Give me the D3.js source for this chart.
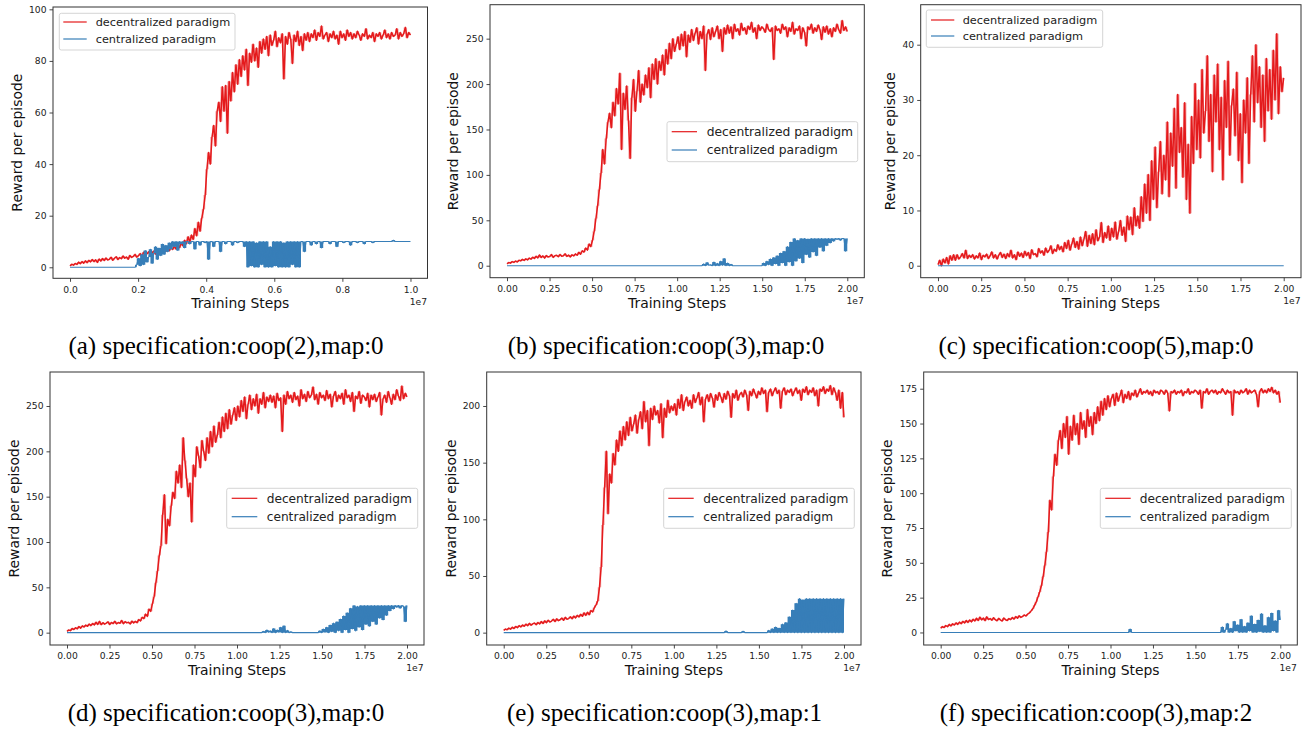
<!DOCTYPE html>
<html>
<head>
<meta charset="utf-8">
<script src="https://cdn.jsdelivr.net/npm/d3@7"></script>
<style>
  html, body { margin: 0; padding: 0; background: #fff; }
  svg { display: block; }
</style>
</head>
<body>
<script>
// ---------------- DATA ----------------
const seriesNames = ["decentralized paradigm", "centralized paradigm"];
const captions = [
  "(a) specification:coop(2),map:0",
  "(b) specification:coop(3),map:0",
  "(c) specification:coop(5),map:0",
  "(d) specification:coop(3),map:0",
  "(e) specification:coop(3),map:1",
  "(f) specification:coop(3),map:2"
];
const xMaxSteps = [1e7, 2e7, 2e7, 2e7, 2e7, 2e7];

const xTicksShort = [0, 0.2, 0.4, 0.6, 0.8, 1.0];
const xTickLabelsShort = ["0.0", "0.2", "0.4", "0.6", "0.8", "1.0"];
const xTicksLong = [0, 0.25, 0.5, 0.75, 1.0, 1.25, 1.5, 1.75, 2.0];
const xTickLabelsLong = ["0.00", "0.25", "0.50", "0.75", "1.00", "1.25", "1.50", "1.75", "2.00"];
const xOffsetLabel = "1e7";

const yTicksA = [0, 20, 40, 60, 80, 100];
const yTicksB = [0, 50, 100, 150, 200, 250];
const yTicksC = [0, 10, 20, 30, 40];
const yTicksD = [0, 50, 100, 150, 200, 250];
const yTicksE = [0, 50, 100, 150, 200];
const yTicksF = [0, 25, 50, 75, 100, 125, 150, 175];

// (a) coop(2), map 0
const redA = [
  0.5,1.2,0.8,1.5,1.1,2.0,1.4,2.2,1.6,2.5,
  1.8,2.7,2.1,3.0,2.2,2.9,1.9,3.2,2.4,3.4,
  2.6,3.6,2.8,3.1,3.9,2.7,3.5,4.1,3.0,3.8,
  3.3,4.4,3.5,4.0,3.1,4.6,3.8,4.2,5.0,3.9,
  4.5,5.3,4.1,5.8,4.8,5.2,6.0,4.7,5.6,6.3,
  5.1,6.5,5.7,7.2,5.9,6.8,6.1,7.5,6.4,7.8,
  6.9,8.2,7.0,8.9,7.6,9.4,8.3,10.5,9.1,11.8,
  9.8,12.5,10.8,15.0,12.2,17.5,14.0,19.0,22.5,28.0,
  38.0,44.5,40.0,50.5,55.0,47.0,60.5,64.0,56.5,70.0,
  60.5,70.5,52.0,72.0,64.5,75.5,68.0,78.5,71.0,80.5,
  74.0,82.0,76.5,84.5,70.5,83.0,79.5,86.5,80.0,85.0,
  77.5,87.5,83.0,88.5,84.5,89.5,82.0,90.0,86.0,88.0,
  91.5,85.5,89.0,87.0,90.5,73.0,89.5,86.5,91.0,88.5,
  79.0,90.0,87.5,91.5,86.0,89.5,84.0,90.5,88.0,91.0,
  87.5,90.5,89.0,92.0,88.0,91.0,89.5,93.5,88.5,90.0,
  91.0,87.5,90.5,89.0,91.5,88.5,90.0,86.5,91.5,89.0,
  90.5,88.0,92.0,89.5,91.0,88.5,90.5,89.0,91.5,90.0,
  88.0,90.5,89.5,92.5,88.5,90.0,89.0,91.0,87.5,90.5,
  89.5,91.0,88.5,90.0,92.0,89.0,90.5,88.5,91.0,89.5,
  90.0,92.5,88.5,91.0,89.5,90.5,93.0,89.0,91.0,90.0
];
const blueA = [
  0,0,0,0,0,0,0,0,0,0,
  0,0,0,0,0,0,0,0,0,0,
  0,0,0,0,0,0,0,0,0,0,
  0,0,0,0,0,0,0,0,0,1.0,
  3.5,0.5,5.0,1.0,6.5,2.0,4.0,7.0,1.5,5.5,
  8.0,3.0,7.5,4.5,9.0,5.0,8.5,6.0,9.5,7.0,
  10,8.0,10,6.5,10,9.0,10,7.5,10,10,
  9.0,10,10,7.0,10,10,8.5,10,10,9.5,
  10,3.0,10,10,8.0,10,10,10,6.0,10,
  10,9.0,10,10,10,8.5,10,10,9.5,10,
  10,10,8.0,10,
  0,10,0.5,10,0,9.5,0,10,1.0,10,0,10,0,8.0,0,10,
  0.5,10,0,10,0,9.5,0,10,0,10,1.0,10,0,10,0,10,
  10,6.0,10,10,
  10,8.5,10,10,9.0,10,10,7.5,10,10,
  10,10,9.0,10,10,10,8.0,10,10,10,
  9.5,10,10,10,8.5,10,10,10,9.5,10,
  10,10,9.0,10,10,10,10,9.5,10,10,
  10,10,10,10,10,10,10,10,10,10.5,
  10,10,10,10,10,10,10,10,10,10
];

// (b) coop(3), map 0
const redB = [
  2.0,3.5,2.8,4.5,3.6,5.2,4.0,6.1,5.3,7.0,
  5.8,7.6,6.4,8.5,7.2,9.4,8.0,10.5,8.6,11.8,
  9.0,10.8,8.4,11.2,9.5,10.1,12.3,9.2,10.9,11.6,
  9.8,12.4,10.5,11.0,13.1,10.2,11.7,9.6,12.0,10.8,
  13.0,11.5,14.8,12.6,16.5,15.0,19.5,17.2,24.0,21.0,
  28.0,38.0,52.0,66.0,84.0,102.0,128.0,112.0,140.0,158.0,
  168.0,152.0,180.0,165.0,195.0,178.0,212.0,128.0,190.0,172.0,
  198.0,160.0,118.0,185.0,205.0,170.0,192.0,215.0,180.0,200.0,
  188.0,210.0,196.0,218.0,185.0,222.0,205.0,228.0,200.0,225.0,
  215.0,232.0,210.0,238.0,222.0,245.0,228.0,250.0,236.0,244.0,
  252.0,238.0,255.0,242.0,258.0,230.0,254.0,246.0,260.0,248.0,
  256.0,262.0,244.0,258.0,250.0,264.0,215.0,255.0,260.0,249.0,
  262.0,252.0,258.0,264.0,250.0,260.0,236.0,262.0,255.0,265.0,
  256.0,263.0,250.0,266.0,258.0,261.0,254.0,267.0,259.0,262.0,
  255.0,264.0,260.0,268.0,257.0,262.0,250.0,265.0,259.0,263.0,
  261.0,257.0,266.0,260.0,258.0,262.0,227.0,264.0,259.0,261.0,
  256.0,266.0,260.0,263.0,252.0,262.0,258.0,268.0,255.0,261.0,
  259.0,264.0,250.0,262.0,257.0,242.0,263.0,260.0,266.0,256.0,
  262.0,258.0,265.0,260.0,249.0,263.0,257.0,264.0,255.0,261.0,
  252.0,262.0,258.0,266.0,260.0,256.0,270.0,259.0,263.0,258.0
];
const blueB = [
  0,0,0,0,0,0,0,0,0,0,
  0,0,0,0,0,0,0,0,0,0,
  0,0,0,0,0,0,0,0,0,0,
  0,0,0,0,0,0,0,0,0,0,
  0,0,0,0,0,0,0,0,0,0,
  0,0,0,0,0,0,0,0,0,0,
  0,0,0,0,0,0,0,0,0,0,
  0,0,0,0,0,0,0,0,0,0,
  0,0,0,0,0,0,0,0,0,0,
  0,0,0,0,0,0,0,0,0,0,
  0,0,0,0,0,0,0,0,0,0,
  0,0,0,0,
  0,2.0,0,3.5,0.5,1.0,0,4.0,0,2.5,0,5.0,0.5,8.0,0,3.0,0,1.5,0,
  0,0,0,0,0,0,0,0,0,0,0,0,0,0,0,0,
  0,3.0,0,5.0,1.0,7.5,0,9.0,2.0,11.0,
  0,14.0,3.0,16.0,0,21.0,4.0,26.0,0,30.0,
  5.0,28.0,8.0,30.0,3.0,30.0,12.0,29.5,9.0,30.0,
  15.0,30.0,11.0,30.0,20.0,30.0,16.0,30.0,22.0,30.0,
  25.0,30.0,27.0,30.0,29.0,30.0,28.0,30.0,30.0,16.0,30.0
];

// (c) coop(5), map 0
const redC = [
  0.2,1.0,0.0,1.2,0.5,1.5,0.3,1.8,1.0,2.0,
  1.0,2.0,1.2,1.6,2.2,1.4,2.8,1.3,1.9,1.5,
  2.0,1.2,1.8,1.4,2.3,1.1,1.9,1.6,2.1,1.3,
  1.8,2.5,1.4,2.0,1.2,1.9,2.4,1.5,2.1,1.3,
  2.2,1.6,2.8,1.4,2.0,1.1,2.5,1.7,2.3,1.5,
  2.6,1.8,2.4,1.3,2.9,2.0,2.2,1.6,3.1,2.3,
  2.7,1.9,3.2,2.4,2.8,3.6,2.2,3.0,2.6,3.8,
  2.9,3.5,2.5,4.2,3.1,4.6,2.8,3.9,5.0,3.3,
  4.4,3.0,5.2,3.6,4.8,6.2,3.5,5.5,4.0,5.8,
  3.8,6.5,4.5,5.2,7.8,4.2,6.0,5.0,7.2,4.6,
  6.8,5.2,7.9,4.8,6.2,8.2,5.5,7.0,4.4,9.0,
  6.5,8.8,5.6,10.5,7.2,9.0,6.8,12.5,8.0,14.8,
  9.5,16.5,8.2,19.0,12.0,21.5,10.5,17.0,22.5,13.0,
  20.0,15.5,26.0,12.5,24.0,18.0,28.5,14.0,31.0,20.5,
  25.0,16.0,29.5,12.0,22.0,9.5,27.0,18.5,33.0,21.0,
  30.0,19.5,35.5,24.0,28.0,38.0,22.5,31.0,17.0,34.5,
  26.0,36.5,21.0,30.5,15.5,33.5,25.0,37.0,20.0,29.0,
  32.0,23.5,35.0,19.0,27.5,15.0,30.0,24.0,34.0,18.5,
  31.0,38.0,26.0,40.0,29.5,36.0,25.0,34.5,22.5,37.5,
  28.0,35.5,26.5,39.0,30.0,42.0,27.5,36.0,31.5,34.0
];
const blueC = [0, 0, 0, 0, 0, 0, 0, 0, 0, 0, 0];

// (d) coop(3), map 0
const redD = [
  1.5,3.0,2.2,4.6,3.5,5.5,4.2,6.8,5.0,7.5,
  6.2,8.4,7.0,9.5,7.8,10.2,8.5,11.5,9.0,12.5,
  8.8,11.0,9.4,10.5,12.0,9.0,11.3,10.0,12.6,9.6,
  11.2,10.4,13.5,9.8,12.2,10.8,11.5,9.5,12.8,10.6,
  12.5,11.0,14.5,12.8,17.0,15.5,20.5,18.0,26.0,23.5,
  32.0,40.0,55.0,68.0,85.0,96.0,130.0,152.0,98.0,125.0,
  118.0,140.0,155.0,148.0,178.0,165.0,185.0,160.0,215.0,190.0,
  170.0,150.0,165.0,122.0,185.0,172.0,205.0,195.0,182.0,212.0,
  200.0,190.0,215.0,198.0,222.0,205.0,228.0,210.0,218.0,232.0,
  215.0,238.0,222.0,242.0,225.0,246.0,230.0,240.0,248.0,234.0,
  250.0,238.0,256.0,244.0,260.0,236.0,252.0,262.0,246.0,258.0,
  250.0,263.0,242.0,258.0,252.0,265.0,248.0,260.0,255.0,262.0,
  254.0,261.0,248.0,264.0,256.0,259.0,222.0,262.0,252.0,266.0,
  258.0,262.0,254.0,265.0,257.0,261.0,250.0,268.0,258.0,263.0,
  255.0,266.0,259.0,262.0,271.0,257.0,263.0,252.0,265.0,259.0,
  262.0,256.0,267.0,258.0,263.0,249.0,261.0,266.0,255.0,262.0,
  258.0,264.0,252.0,268.0,259.0,262.0,255.0,265.0,244.0,261.0,
  258.0,266.0,253.0,262.0,260.0,256.0,264.0,249.0,262.0,257.0,
  263.0,255.0,260.0,265.0,240.0,258.0,262.0,254.0,266.0,259.0,
  252.0,263.0,257.0,268.0,261.0,256.0,272.0,258.0,264.0,260.0
];
const blueD = [
  0,0,0,0,0,0,0,0,0,0,
  0,0,0,0,0,0,0,0,0,0,
  0,0,0,0,0,0,0,0,0,0,
  0,0,0,0,0,0,0,0,0,0,
  0,0,0,0,0,0,0,0,0,0,
  0,0,0,0,0,0,0,0,0,0,
  0,0,0,0,0,0,0,0,0,0,
  0,0,0,0,0,0,0,0,0,0,
  0,0,0,0,0,0,0,0,0,0,
  0,0,0,0,0,0,0,0,0,0,
  0,0,0,0,0,0,0,0,0,0,
  0,0,0,0,
  0,1.5,0,3.0,0.5,2.0,0,4.5,0,3.0,0.5,6.0,0,7.5,0,2.5,0,1.0,0,
  0,0,0,0,0,0,0,0,0,0,0,0,0,0,
  0,2.0,0,4.0,0.5,6.0,0,8.5,1.0,10.5,0,12.0,
  2.0,15.0,0,18.5,3.0,22.0,0,27.0,4.0,30.0,
  2.0,29.0,6.0,30.0,3.0,30.0,9.0,30.0,7.0,30.0,
  12.0,30.0,9.0,30.0,16.0,30.0,14.0,30.0,19.0,30.0,
  24.0,30.0,26.0,30.0,28.0,30.0,27.0,30.0,29.0,12.0,30.0
];

// (e) coop(3), map 1
const redE = [
  2.0,3.2,2.5,4.0,3.1,4.8,3.6,5.5,4.4,6.2,
  5.0,6.8,5.6,7.5,6.1,8.2,6.6,7.8,8.6,7.0,
  9.0,7.6,9.8,8.1,10.4,8.8,11.0,9.3,10.2,11.8,
  9.8,12.2,10.6,11.4,12.9,10.9,13.5,11.8,12.4,14.0,
  12.2,14.6,13.0,15.3,13.8,16.2,14.4,17.5,15.2,18.0,
  15.8,19.5,18.2,22.0,24.5,28.0,40.0,58.0,95.0,128.0,
  160.0,105.0,140.0,132.0,158.0,148.0,170.0,160.0,178.0,165.0,
  182.0,170.0,186.0,174.0,190.0,178.0,184.0,192.0,176.0,188.0,
  195.0,180.0,204.0,186.0,196.0,165.0,198.0,188.0,200.0,192.0,
  196.0,185.0,202.0,172.0,198.0,190.0,205.0,194.0,200.0,196.0,
  202.0,192.0,206.0,198.0,210.0,196.0,204.0,208.0,200.0,205.0,
  198.0,210.0,203.0,207.0,212.0,201.0,208.0,186.0,206.0,210.0,
  204.0,211.0,207.0,199.0,210.0,205.0,212.0,208.0,203.0,211.0,
  206.0,213.0,209.0,190.0,211.0,207.0,214.0,205.0,210.0,212.0,
  208.0,214.0,210.0,196.0,213.0,209.0,215.0,211.0,207.0,213.0,
  210.0,216.0,211.0,214.0,195.0,212.0,215.0,209.0,213.0,216.0,
  211.0,214.0,198.0,213.0,216.0,210.0,214.0,212.0,215.0,209.0,
  213.0,216.0,211.0,214.0,205.0,215.0,212.0,217.0,210.0,214.0,
  212.0,216.0,209.0,214.0,200.0,215.0,213.0,217.0,211.0,215.0,
  213.0,218.0,210.0,216.0,212.0,205.0,214.0,198.0,212.0,190.0
];
const blueE = [
  0,0,0,0,0,0,0,0,0,0,
  0,0,0,0,0,0,0,0,0,0,
  0,0,0,0,0,0,0,0,0,0,
  0,0,0,0,0,0,0,0,0,0,
  0,0,0,0,0,0,0,0,0,0,
  0,0,0,0,0,0,0,0,0,0,
  0,0,0,0,0,0,0,0,0,0,
  0,0,0,0,0,0,0,0,0,0,
  0,0,0,0,0,0,0,0,0,0,
  0,0,0,0,0,0,0,0,0,0,
  0,0,0,0,0,0,0,0,0,0,
  0,0,0,0,0,0,0,0,0,0,
  0,0,0,0,0,0,0,0,0,0,
  1.5,0,0,0,0,0,0,0,0,0,
  1.2,0,0,0,0,0,0,0,0,0,0,0,0,0,
  0,2.0,0,3.5,0,5.0,0,4.0,0,7.5,0,9.0,0,14.0,0,20.0,
  0,26.0,0,30.0,0,29.0,0,30.0,0,30.0,0,30.0,0,30.0,
  0,30.0,0,30.0,0,30.0,0,30.0,0,30.0,0,30.0,0,30.0,0,30.0
];

// (f) coop(3), map 2
const redF = [
  3.0,4.2,3.5,5.0,4.1,5.8,4.6,6.2,5.3,6.9,
  5.8,7.4,6.3,8.0,6.8,8.6,7.2,9.0,7.6,9.5,
  8.2,10.2,8.6,11.0,9.0,10.4,8.5,11.2,9.3,10.0,
  8.8,10.6,9.2,8.4,10.1,9.0,8.2,10.4,9.1,8.6,
  10.0,9.2,10.8,9.6,11.4,10.2,12.0,10.8,11.5,12.6,
  11.8,13.2,14.0,15.5,17.0,19.5,22.0,25.5,29.0,33.5,
  40.0,48.0,58.0,72.0,95.0,88.0,112.0,128.0,120.0,138.0,
  145.0,132.0,150.0,140.0,155.0,128.0,148.0,138.0,156.0,142.0,
  150.0,135.0,158.0,146.0,152.0,140.0,160.0,148.0,155.0,142.0,
  158.0,150.0,162.0,152.0,166.0,156.0,168.0,160.0,170.0,162.0,
  168.0,171.0,163.0,172.0,166.0,170.0,174.0,165.0,171.0,168.0,
  173.0,167.0,172.0,170.0,174.0,169.0,172.0,175.0,171.0,173.0,
  172.0,174.0,171.0,173.0,170.0,174.0,172.0,173.0,171.0,174.0,
  173.0,171.0,174.0,172.0,159.0,173.0,172.0,174.0,171.0,173.0,
  172.0,174.0,170.0,173.0,172.0,175.0,171.0,173.0,172.0,174.0,
  173.0,171.0,174.0,161.0,173.0,172.0,175.0,171.0,173.0,174.0,
  172.0,174.0,171.0,173.0,172.0,175.0,173.0,171.0,174.0,172.0,
  173.0,156.0,174.0,172.0,173.0,171.0,174.0,172.0,173.0,175.0,
  171.0,174.0,172.0,173.0,174.0,171.0,162.0,173.0,175.0,172.0,
  174.0,172.0,175.0,173.0,176.0,172.0,174.0,171.0,173.0,165.0
];
const blueF = [
  0,0,0,0,0,0,0,0,0,0,
  0,0,0,0,0,0,0,0,0,0,
  0,0,0,0,0,0,0,0,0,0,
  0,0,0,0,0,0,0,0,0,0,
  0,0,0,0,0,0,0,0,0,0,
  0,0,0,0,0,0,0,0,0,0,
  0,0,0,0,0,0,0,0,0,0,
  0,0,0,0,0,0,0,0,0,0,
  0,0,0,0,0,0,0,0,0,0,
  0,0,0,0,0,0,0,0,0,0,
  0,0,0,0,0,0,0,0,0,0,
  0,2.5,0,0,0,0,0,0,0,0,
  0,0,0,0,0,0,0,0,0,0,
  0,0,0,0,0,0,0,0,0,0,
  0,0,0,0,0,0,0,0,0,0,
  0,0,0,0,0,0,0,0,0,0,
  0,0,0,0,
  0,4.0,0,2.0,6.5,0,3.0,0,8.0,1.0,5.5,0,9.5,0,4.5,0,7.0,1.0,
  12.0,0,6.0,0,9.0,0.5,13.5,0,5.0,0,11.0,0,14.0,1.0,8.5,0,16.0,9.0
];

// ---------------- LAYOUT (positions / styles) ----------------
const COLORS = { red: "#e41a1c", blue: "#377eb8" };
const layout = [
  { red: redA, blue: blueA, yTicks: yTicksA, xShort: true,
    box: [53, 427.5, 7, 278.3], ydom: [-4.27, 100.9], ylabOff: 31,
    legend: { x: 59.3, y: 13.3, w: 175.7, h: 36.7, l1: 63.3, l2: 86.7, tx: 95.7, r1: 22, r2: 39, fs: 11.3 },
    cap: [226, 353.8] },
  { red: redB, blue: blueB, yTicks: yTicksB, xShort: false,
    box: [490, 864.3, 4.7, 277.7], ydom: [-13.2, 287.4], ylabOff: 32,
    legend: { x: 667, y: 121.7, w: 190.7, h: 40, l1: 671.7, l2: 697, tx: 706.7, r1: 131.7, r2: 150, fs: 12.3 },
    cap: [666, 353.8] },
  { red: redC, blue: blueC, yTicks: yTicksC, xShort: false,
    box: [920.7, 1301, 4.7, 277.7], ydom: [-2.17, 47.24], ylabOff: 25.5,
    legend: { x: 926.3, y: 10, w: 176.4, h: 37.3, l1: 931, l2: 954.3, tx: 962.7, r1: 20, r2: 36, fs: 11.3 },
    cap: [1096, 353.8] },
  { red: redD, blue: blueD, yTicks: yTicksD, xShort: false,
    box: [50, 424, 372, 645], ydom: [-13.6, 287.5], ylabOff: 31.5,
    legend: { x: 226.7, y: 488.3, w: 191, h: 40, l1: 231.7, l2: 257.3, tx: 266.7, r1: 498.3, r2: 516.7, fs: 12.2 },
    cap: [226, 720.5] },
  { red: redE, blue: blueE, yTicks: yTicksE, xShort: false,
    box: [486.7, 861, 372, 645], ydom: [-10.9, 230], ylabOff: 31.2,
    legend: { x: 663.7, y: 488.3, w: 190.6, h: 40, l1: 668.3, l2: 693.7, tx: 703.3, r1: 498.3, r2: 516.7, fs: 12.2 },
    cap: [664.5, 720.5] },
  { red: redF, blue: blueF, yTicks: yTicksF, xShort: false,
    box: [923.7, 1297.3, 372, 645], ydom: [-9.0, 187], ylabOff: 31.7,
    legend: { x: 1100.3, y: 488.3, w: 191, h: 40, l1: 1105.3, l2: 1130.7, tx: 1139.7, r1: 498.3, r2: 516.7, fs: 12.2 },
    cap: [1096, 720.5] }
];

const W = 1312, H = 729;
const svg = d3.select("body").append("svg").attr("width", W).attr("height", H)
  .style("font-family", "'DejaVu Sans', sans-serif");
svg.append("rect").attr("width", W).attr("height", H).attr("fill", "#fff");

layout.forEach((p, k) => {
  const [L, R, T, B] = p.box;
  const xmax = xMaxSteps[k];
  const x = d3.scaleLinear().domain([-0.05 * xmax, 1.05 * xmax]).range([L, R]);
  const y = d3.scaleLinear().domain(p.ydom).range([B, T]);
  const g = svg.append("g");

  const clipId = "clip" + k;
  g.append("clipPath").attr("id", clipId).append("rect")
    .attr("x", L).attr("y", T).attr("width", R - L).attr("height", B - T);

  const xAt = (i, n) => x(i / (n - 1) * xmax);
  const line = d3.line()
    .x((d, i, arr) => xAt(i, arr.length))
    .y(d => y(d));
  // bounding box of each line segment (dense-sampling look), drawn behind the line
  const segBand = d3.area()
    .curve(d3.curveStepAfter)
    .x((d, i, arr) => xAt(i, arr.length))
    .y0((d, i, arr) => y(Math.min(d, arr[Math.min(i + 1, arr.length - 1)])))
    .y1((d, i, arr) => y(Math.max(d, arr[Math.min(i + 1, arr.length - 1)])));

  const plot = g.append("g").attr("clip-path", `url(#${clipId})`);
  plot.append("path").datum(p.red).attr("d", segBand)
    .attr("fill", COLORS.red).attr("fill-opacity", 0.4).attr("stroke", "none");
  plot.append("path").datum(p.red).attr("d", line)
    .attr("fill", "none").attr("stroke", COLORS.red).attr("stroke-width", 1.5)
    .attr("stroke-linejoin", "round");
  plot.append("path").datum(p.blue).attr("d", segBand)
    .attr("fill", COLORS.blue).attr("fill-opacity", 1).attr("stroke", "none");
  plot.append("path").datum(p.blue).attr("d", line)
    .attr("fill", "none").attr("stroke", COLORS.blue).attr("stroke-width", 1.1)
    .attr("stroke-linejoin", "round");

  // axes
  const xt = p.xShort ? xTicksShort : xTicksLong;
  const xl = p.xShort ? xTickLabelsShort : xTickLabelsLong;
  const xAxis = d3.axisBottom(x).tickValues(xt.map(v => v * 1e7))
    .tickFormat((d, i) => xl[i]).tickSize(3.5).tickPadding(4.3);
  const gx = g.append("g").attr("transform", `translate(0,${B})`).call(xAxis);
  const yAxis = d3.axisLeft(y).tickValues(p.yTicks).tickFormat(d => String(d))
    .tickSize(3.5).tickPadding(3);
  const gy = g.append("g").attr("transform", `translate(${L},0)`).call(yAxis);
  [gx, gy].forEach(a => {
    a.select(".domain").remove();
    a.selectAll(".tick line").attr("stroke", "#333").attr("stroke-width", 0.9);
    a.selectAll(".tick text").attr("fill", "#222").style("font-size", "9.2px")
      .style("font-family", "'DejaVu Sans', sans-serif");
  });

  // frame
  g.append("rect").attr("x", L).attr("y", T).attr("width", R - L).attr("height", B - T)
    .attr("fill", "none").attr("stroke", "#333").attr("stroke-width", 1);

  // offset text
  g.append("text").attr("x", R - 0.5).attr("y", B + 26.3).attr("text-anchor", "end")
    .attr("fill", "#222").style("font-size", "9.2px").text(xOffsetLabel);

  // axis labels
  g.append("text").attr("x", (L + R) / 2).attr("y", B + 30)
    .attr("text-anchor", "middle").attr("fill", "#111").style("font-size", "13.9px")
    .text("Training Steps");
  g.append("text")
    .attr("transform", `translate(${L - p.ylabOff},${(T + B) / 2}) rotate(-90)`)
    .attr("text-anchor", "middle").attr("fill", "#111").style("font-size", "13.9px")
    .text("Reward per episode");

  // legend
  const lg = p.legend;
  g.append("rect").attr("x", lg.x).attr("y", lg.y).attr("width", lg.w).attr("height", lg.h)
    .attr("rx", 2).attr("ry", 2).attr("fill", "#fff").attr("fill-opacity", 0.8)
    .attr("stroke", "#d0d0d0").attr("stroke-width", 0.9);
  [[COLORS.red, lg.r1, seriesNames[0]], [COLORS.blue, lg.r2, seriesNames[1]]].forEach(([c, ry, name]) => {
    g.append("line").attr("x1", lg.l1).attr("x2", lg.l2).attr("y1", ry).attr("y2", ry)
      .attr("stroke", c).attr("stroke-width", 1.2);
    g.append("text").attr("x", lg.tx).attr("y", ry).attr("dy", "0.35em")
      .attr("fill", "#222").style("font-size", lg.fs + "px").text(name);
  });

  // caption
  svg.append("text").attr("x", p.cap[0]).attr("y", p.cap[1]).attr("text-anchor", "middle")
    .style("font-family", "'Liberation Serif', 'Times New Roman', serif")
    .style("font-size", "25px").attr("fill", "#000").text(captions[k]);
});
</script>
</body>
</html>
